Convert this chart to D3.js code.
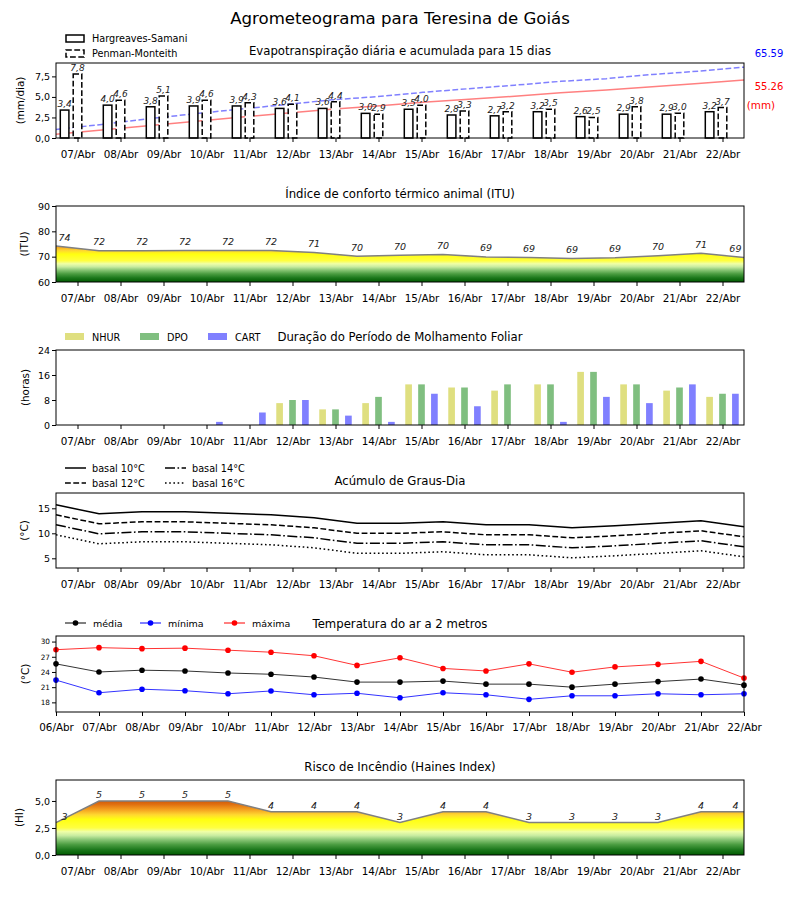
<!DOCTYPE html>
<html><head><meta charset="utf-8">
<script src="https://cdn.jsdelivr.net/npm/d3@7"></script>
<style>body{margin:0;background:#fff} svg{font-family:"DejaVu Sans",sans-serif}</style>
</head><body><svg id="c" width="800" height="900"></svg>
<script>
// ---------- DATA ----------
const days = ["07/Abr","08/Abr","09/Abr","10/Abr","11/Abr","12/Abr","13/Abr","14/Abr","15/Abr","16/Abr","17/Abr","18/Abr","19/Abr","20/Abr","21/Abr","22/Abr"];
const tempDays = ["06/Abr","07/Abr","08/Abr","09/Abr","10/Abr","11/Abr","12/Abr","13/Abr","14/Abr","15/Abr","16/Abr","17/Abr","18/Abr","19/Abr","20/Abr","21/Abr","22/Abr"];
const etHargreaves = [3.4,4.0,3.8,3.9,3.9,3.6,3.6,3.0,3.5,2.8,2.7,3.2,2.6,2.9,2.9,3.2];
const etPenman = [7.8,4.6,5.1,4.6,4.3,4.1,4.4,2.9,4.0,3.3,3.2,3.5,2.5,3.8,3.0,3.7];
const totalPenman = "65.59";
const totalHargreaves = "55.26";
const itu = [74.2,72.3,72.3,72.4,72.4,72.4,71.6,70.2,70.6,70.9,69.9,69.7,69.3,69.6,70.4,71.3,69.7];
const nhur = [0,0,0,0,0,7,5,7,13,12,11,13,17,13,11,9];
const dpo  = [0,0,0,0,0,8,5,9,13,12,13,13,17,13,12,10];
const cart = [0,0,0,1,4,8,3,1,10,6,0,1,9,7,13,10];
const basal10 = [15.7,13.9,14.3,14.3,14.0,13.7,13.1,12.0,12.0,12.3,11.7,11.7,11.1,11.5,12.0,12.5,11.3];
const basal12 = [13.7,11.9,12.3,12.3,12.0,11.7,11.1,10.0,10.0,10.3,9.7,9.7,9.1,9.5,10.0,10.5,9.3];
const basal14 = [11.7,9.9,10.3,10.3,10.0,9.7,9.1,8.0,8.0,8.3,7.7,7.7,7.1,7.5,8.0,8.5,7.3];
const basal16 = [9.7,7.9,8.3,8.3,8.0,7.7,7.1,6.0,6.0,6.3,5.7,5.7,5.1,5.5,6.0,6.5,5.3];
const tMedia  = [25.6,24.0,24.35,24.2,23.8,23.55,23.0,22.0,22.0,22.2,21.6,21.6,21.0,21.6,22.1,22.6,21.4];
const tMinima = [22.4,19.9,20.6,20.3,19.7,20.25,19.5,19.8,18.9,19.9,19.5,18.6,19.3,19.3,19.7,19.5,19.7];
const tMaxima = [28.4,28.8,28.6,28.7,28.3,27.9,27.2,25.3,26.8,24.7,24.2,25.6,23.95,25.0,25.5,26.1,22.8];
const haines = [3,5,5,5,5,4,4,4,3,4,4,3,3,3,3,4,4];

// ---------- LAYOUT ----------
const svg = d3.select("#c");
const X0 = 56, X1 = 744;
const x = d3.scaleLinear().domain([-0.5, 15.5]).range([X0, X1]);
const xc = d3.scaleLinear().domain([0, 15]).range([X0, X1]);
const xt = d3.scaleLinear().domain([0, 16]).range([X0, X1]);
const comma = d => d3.format(".1f")(d).replace(".", ",");
const defs = svg.append("defs");

const cmap = [[0,"#005a00"],[0.08,"#1b771b"],[0.16,"#4a9c40"],[0.24,"#8cc878"],[0.30,"#c8eca0"],[0.36,"#efffa8"],[0.42,"#ffff40"],[0.55,"#ffff10"],[0.62,"#ffd830"],[0.70,"#f4a020"],[0.78,"#e07010"],[0.85,"#cc5508"],[1,"#b02000"]];
function grad(id, yb, yt){
  const lg = defs.append("linearGradient").attr("id", id).attr("gradientUnits","userSpaceOnUse")
    .attr("x1",0).attr("x2",0).attr("y1",yb).attr("y2",yt);
  cmap.forEach(([o,c]) => lg.append("stop").attr("offset",o).attr("stop-color",c));
}

function frame(top, bottom){
  svg.append("rect").attr("x",X0).attr("y",top).attr("width",X1-X0).attr("height",bottom-top)
    .attr("fill","none").attr("stroke","#000").attr("stroke-width",1);
}
function xAxis(bottom, scale, labels, pad){
  const g = svg.append("g").attr("transform",`translate(0,${bottom})`)
    .call(d3.axisBottom(scale).tickValues(d3.range(labels.length)).tickFormat(d => labels[d]).tickSize(4).tickPadding(pad));
  g.select(".domain").remove();
  g.attr("font-family","DejaVu Sans").attr("font-size",10.4);
  g.selectAll("text").attr("fill","#000");
  g.selectAll("line").attr("stroke","#000");
}
function yAxis(scale, ticks, fmt, fs){
  const g = svg.append("g").attr("transform",`translate(${X0},0)`)
    .call(d3.axisLeft(scale).tickValues(ticks).tickFormat(fmt).tickSize(4).tickPadding(2));
  g.select(".domain").remove();
  g.attr("font-family","DejaVu Sans").attr("font-size",fs);
  g.selectAll("text").attr("fill","#000");
  g.selectAll("line").attr("stroke","#000");
}
function yLabel(text, cx, cy){
  svg.append("text").attr("transform",`translate(${cx},${cy}) rotate(-90)`).attr("text-anchor","middle")
    .attr("dominant-baseline","central").attr("font-size",10.4).text(text);
}
function title(text, y){
  svg.append("text").attr("x",400).attr("y",y).attr("text-anchor","middle").attr("font-size",11.7).text(text);
}

// main title
svg.append("text").attr("x",400).attr("y",24).attr("text-anchor","middle").attr("font-size",16.6).text("Agrometeograma para Teresina de Goiás");

// ---------- PANEL 1: ET ----------
{
  const top = 63, bottom = 138;
  const y = d3.scaleLinear().domain([0, 9.13]).range([bottom, top]);
  const y2 = d3.scaleLinear().domain([0, 68.6]).range([bottom, top]);
  title("Evapotranspiração diária e acumulada para 15 dias", 55);
  const cumP = d3.cumsum(etPenman), cumH = d3.cumsum(etHargreaves);
  svg.append("path").datum(Array.from(cumH)).attr("fill","none").attr("stroke","#ff8080").attr("stroke-width",1.5)
    .attr("d", d3.line().x((d,i)=>xc(i)).y(d=>y2(d)));
  svg.append("path").datum(Array.from(cumP)).attr("fill","none").attr("stroke","#8080ff").attr("stroke-width",1.5)
    .attr("stroke-dasharray","5.8,2.5").attr("d", d3.line().x((d,i)=>xc(i)).y(d=>y2(d)));
  const bw = 0.2;
  svg.append("g").selectAll("rect").data(etHargreaves).join("rect")
    .attr("x",(d,i)=>x(i-0.4)).attr("width",x(bw)-x(0)).attr("y",d=>y(d)).attr("height",d=>bottom-y(d))
    .attr("fill","#fff").attr("stroke","#000").attr("stroke-width",1.5);
  svg.append("g").selectAll("rect").data(etPenman).join("rect")
    .attr("x",(d,i)=>x(i-0.1)).attr("width",x(bw)-x(0)).attr("y",d=>y(d)).attr("height",d=>bottom-y(d))
    .attr("fill","#fff").attr("stroke","#000").attr("stroke-width",1.5).attr("stroke-dasharray","5.8,2.5");
  svg.append("g").selectAll("text").data(etHargreaves).join("text")
    .attr("x",(d,i)=>x(i-0.3)).attr("y",d=>y(d)-3).attr("text-anchor","middle").attr("font-size",9).attr("font-style","italic")
    .attr("fill","#222").text(d=>comma(d));
  svg.append("g").selectAll("text").data(etPenman).join("text")
    .attr("x",(d,i)=>x(i)).attr("y",d=>y(d)-3).attr("text-anchor","middle").attr("font-size",9).attr("font-style","italic")
    .attr("fill","#222").text(d=>comma(d));
  frame(top, bottom);
  xAxis(bottom, x, days, 9);
  yAxis(y, [0,2.5,5,7.5], comma, 9.5);
  yLabel("(mm/dia)", 20, (top+bottom)/2);
  svg.append("text").attr("x",769).attr("y",57).attr("text-anchor","middle").attr("font-size",10).attr("fill","#0000ff").text(totalPenman);
  svg.append("text").attr("x",769).attr("y",90).attr("text-anchor","middle").attr("font-size",10).attr("fill","#ff0000").text(totalHargreaves);
  svg.append("text").attr("x",761).attr("y",109).attr("text-anchor","middle").attr("font-size",10.4).attr("fill","#ff0000").text("(mm)");
  // legend
  svg.append("rect").attr("x",66).attr("y",35).attr("width",18).attr("height",7).attr("fill","#fff").attr("stroke","#000").attr("stroke-width",1.5);
  svg.append("rect").attr("x",66).attr("y",50).attr("width",18).attr("height",7).attr("fill","#fff").attr("stroke","#000").attr("stroke-width",1.5).attr("stroke-dasharray","5.8,2.5");
  svg.append("text").attr("x",92).attr("y",42).attr("font-size",9.7).text("Hargreaves-Samani");
  svg.append("text").attr("x",92).attr("y",57).attr("font-size",9.7).text("Penman-Monteith");
}

// ---------- PANEL 2: ITU ----------
{
  const top = 206, bottom = 282;
  const y = d3.scaleLinear().domain([60, 90]).range([bottom, top]);
  grad("gI", y(60), y(80));
  title("Índice de conforto térmico animal (ITU)", 198);
  svg.append("path").datum(itu).attr("fill","url(#gI)")
    .attr("d", d3.area().x((d,k)=>x(k-0.5)).y0(bottom).y1(d=>y(d)));
  svg.append("path").datum(itu).attr("fill","none").attr("stroke","#808080").attr("stroke-width",1.5)
    .attr("d", d3.line().x((d,k)=>x(k-0.5)).y(d=>y(d)));
  svg.append("g").selectAll("text").data(itu).join("text")
    .attr("x",(d,k)=>x(Math.max(-0.3, Math.min(15.3, k-0.5)))).attr("y",d=>y(d)-5.5)
    .attr("text-anchor","middle").attr("font-size",9.5).attr("font-style","italic").attr("fill","#222")
    .text(d=>Math.floor(d));
  frame(top, bottom);
  xAxis(bottom, x, days, 9);
  yAxis(y, [60,70,80,90], d3.format("d"), 9.5);
  yLabel("(ITU)", 24, (top+bottom)/2);
}

// ---------- PANEL 3: Molhamento ----------
{
  const top = 350, bottom = 425;
  const y = d3.scaleLinear().domain([0, 24]).range([bottom, top]);
  title("Duração do Período de Molhamento Foliar", 341);
  const series = [[nhur,-0.3,"#dfdf80"],[dpo,0,"#80bf80"],[cart,0.3,"#8080ff"]];
  const bw = 0.155;
  series.forEach(([vals, off, col]) => {
    svg.append("g").selectAll("rect").data(vals).join("rect")
      .attr("x",(d,i)=>x(i+off-bw/2)).attr("width",x(bw)-x(0)).attr("y",d=>y(d)).attr("height",d=>bottom-y(d))
      .attr("fill",col);
  });
  frame(top, bottom);
  xAxis(bottom, x, days, 9);
  yAxis(y, [0,8,16,24], d3.format("d"), 9.5);
  yLabel("(horas)", 24.5, (top+bottom)/2);
  const leg = [["NHUR",65,"#dfdf80"],["DPO",140,"#80bf80"],["CART",208,"#8080ff"]];
  leg.forEach(([t,lx,c]) => {
    svg.append("rect").attr("x",lx).attr("y",333).attr("width",19).attr("height",7).attr("fill",c);
    svg.append("text").attr("x",lx+27).attr("y",340.5).attr("font-size",9.7).text(t);
  });
}

// ---------- PANEL 4: Graus-Dia ----------
{
  const top = 493, bottom = 568;
  const y = d3.scaleLinear().domain([3.06, 18.06]).range([bottom, top]);
  title("Acúmulo de Graus-Dia", 485);
  const series = [[basal10,null,"basal 10°C",65,468],[basal12,"5.8,2.5","basal 12°C",65,483],[basal14,"10,2.5,1.6,2.5","basal 14°C",165,468],[basal16,"1.6,2.6","basal 16°C",165,483]];
  series.forEach(([vals, dash, lab, lx, ly]) => {
    svg.append("path").datum(vals).attr("fill","none").attr("stroke","#000").attr("stroke-width",1.5)
      .attr("stroke-dasharray",dash).attr("d", d3.line().x((d,k)=>x(k-0.5)).y(d=>y(d)));
    svg.append("line").attr("x1",lx).attr("x2",lx+21).attr("y1",ly).attr("y2",ly).attr("stroke","#000").attr("stroke-width",1.5).attr("stroke-dasharray",dash);
    svg.append("text").attr("x",lx+27).attr("y",ly+3.5).attr("font-size",9.7).text(lab);
  });
  frame(top, bottom);
  xAxis(bottom, x, days, 9);
  yAxis(y, [5,10,15], d3.format("d"), 9.5);
  yLabel("(°C)", 24, (top+bottom)/2);
}

// ---------- PANEL 5: Temperatura ----------
{
  const top = 636, bottom = 712;
  const y = d3.scaleLinear().domain([16.1, 31.1]).range([bottom, top]);
  title("Temperatura do ar a 2 metros", 628);
  const series = [[tMedia,"#000000","média",65],[tMinima,"#0000ff","mínima",140],[tMaxima,"#ff0000","máxima",224]];
  series.forEach(([vals,col,lab,lx]) => {
    svg.append("path").datum(vals).attr("fill","none").attr("stroke",col).attr("stroke-width",1).attr("stroke-opacity",0.8)
      .attr("d", d3.line().x((d,k)=>xt(k)).y(d=>y(d)));
    svg.append("g").selectAll("circle").data(vals).join("circle")
      .attr("cx",(d,k)=>xt(k)).attr("cy",d=>y(d)).attr("r",2.8).attr("fill",col);
    svg.append("line").attr("x1",lx).attr("x2",lx+21).attr("y1",623).attr("y2",623).attr("stroke",col).attr("stroke-width",1);
    svg.append("circle").attr("cx",lx+10.5).attr("cy",623).attr("r",2.8).attr("fill",col);
    svg.append("text").attr("x",lx+28).attr("y",626.5).attr("font-size",9.5).text(lab);
  });
  frame(top, bottom);
  xAxis(bottom, xt, tempDays, 8);
  yAxis(y, [18,21,24,27,30], d3.format("d"), 7.3);
  yLabel("(°C)", 24.5, (top+bottom)/2);
}

// ---------- PANEL 6: Haines ----------
{
  const top = 780, bottom = 855;
  const y = d3.scaleLinear().domain([0, 6.94]).range([bottom, top]);
  grad("gH", y(0), y(6));
  title("Risco de Incêndio (Haines Index)", 771);
  svg.append("path").datum(haines).attr("fill","url(#gH)")
    .attr("d", d3.area().x((d,k)=>x(k-0.5)).y0(bottom).y1(d=>y(d)));
  svg.append("path").datum(haines).attr("fill","none").attr("stroke","#808080").attr("stroke-width",1.5)
    .attr("d", d3.line().x((d,k)=>x(k-0.5)).y(d=>y(d)));
  svg.append("g").selectAll("text").data(haines).join("text")
    .attr("x",(d,k)=>x(Math.max(-0.3, Math.min(15.3, k-0.5)))).attr("y",d=>y(d)-2.5)
    .attr("text-anchor","middle").attr("font-size",9.5).attr("font-style","italic").attr("fill","#222")
    .text(d=>d);
  frame(top, bottom);
  xAxis(bottom, x, days, 9);
  yAxis(y, [0,2.5,5], comma, 9.5);
  yLabel("(HI)", 19, (top+bottom)/2);
}
</script></body></html>
